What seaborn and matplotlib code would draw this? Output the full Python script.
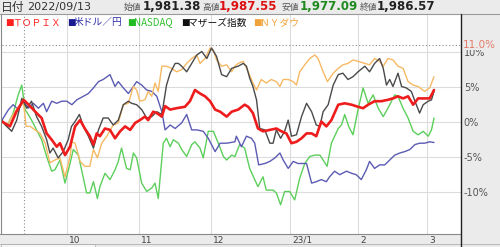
import matplotlib
matplotlib.use("Agg")
import matplotlib.pyplot as plt
from matplotlib.patches import Rectangle
from matplotlib.lines import Line2D
import matplotlib.transforms as mtrans
import seaborn as sns
import pandas as pd

# ---- data: (trading-day index from 2022/09/05, % change) ----
topix = [(0,0),(2.2,-0.7),(4,1.4),(6,3.1),(7.4,2.4),(8.7,1.7),(10,1.0),(11,0.5),(12.4,-1.7),(13.8,-2.6),
         (15.2,-3.6),(16.1,-3.1),(17.5,-4.8),(18.9,-3.6),(20.3,-0.7),(21.7,0.2),(23,-1.0),(24.4,-2.1),(25.4,-3.3),
         (26.3,-1.7),(27.2,-2.1),(28.6,-1.0),(30,-1.2),(31.4,-2.4),(32.8,-1.4),(34.2,-0.7),(35.6,-1.2),(37,-0.2),
         (38.3,0.2),(39.7,0.7),(40.6,0.2),(42,1.4),(43,1.2),(44.4,0.7),(45.3,2.2),(46.7,1.7),(48.5,1.9),(50.8,2.1),
         (52.2,2.9),(53.6,4.5),(55,4.0),(56.4,3.6),(57.8,2.9),(59.2,1.7),(60.6,1.4),(62.4,0.7),(63.8,1.4),(65.6,1.7),
         (67.4,2.4),(68.4,2.1),(69.7,1.2),(71.1,-1.0),(72.5,-1.4),(74.4,-1.2),(76.2,-1.0),(77.6,-1.4),(79,-1.7),
         (80.4,-3.1),(81.8,-2.9),(83.2,-2.4),(84.6,-1.7),(86,-1.7),(87.3,-2.1),(88.7,0.0),(90.1,-0.7),(91.5,0.2),
         (93.4,2.4),(95.2,2.6),(97.1,2.4),(98.9,2.1),(100.3,1.9),(101.7,2.4),(103.5,2.9),(105.4,2.9),(107.2,3.1),
         (108.6,3.3),(110,3.6),(111.4,3.3),(112.8,3.6),(114.2,2.4),(115.6,3.3),(117.4,3.3),(118.8,3.3),(119.5,4.0),(120,4.5)]

usdjpy = [(0,0.2),(1.8,1.7),(3.1,2.4),(4.5,1.7),(6,2.9),(7.3,1.9),(8.7,2.6),(10.1,1.9),(11.5,2.6),(12.4,1.4),
          (13.8,2.9),(15.2,2.6),(16.6,2.9),(18,2.9),(19.4,2.4),(20.8,3.1),(22.6,3.6),(24,4.0),(25.4,4.8),(26.8,5.7),
          (28.1,6.0),(30,6.7),(31.4,5.0),(32.3,5.7),(33.7,4.8),(35.1,4.0),(36.5,5.0),(37.4,5.7),(38.8,5.2),(40.2,4.5),
          (41.6,4.3),(43,3.6),(44.4,1.4),(45.3,-1.2),(46.7,-0.5),(48.1,-1.0),(49.9,-0.2),(51.3,1.0),(52.7,-1.2),
          (54.1,-1.2),(55.9,-1.4),(57.3,-2.4),(59.2,-4.3),(60.6,-3.1),(62.4,-3.1),(64.7,-2.9),(65.1,-2.1),(66.5,-3.6),
          (67.9,-2.1),(69.3,-2.4),(70.2,-3.1),(71.3,-6.2),(73,-6.0),(74.4,-5.7),(75.8,-5.2),(77.2,-4.5),(78.1,-5.5),
          (79.5,-6.7),(80.9,-5.7),(82.2,-6.0),(84.6,-6.0),(86,-8.8),(87.3,-8.6),(88.7,-8.3),(90.1,-8.6),(91,-7.9),
          (92.4,-7.1),(93.8,-7.6),(95.7,-7.1),(97.1,-7.4),(98.4,-7.6),(99.8,-8.3),(101.2,-6.9),(102.1,-5.7),
          (103.5,-6.7),(104.9,-6.2),(106.3,-6.2),(107.7,-5.5),(109.1,-4.8),(110.5,-4.5),(111.9,-4.3),(113.3,-4.0),
          (114.7,-3.3),(116,-3.1),(117.4,-3.1),(118.8,-2.9),(120,-3.0)]

nasdaq = [(0,0),(1.4,-0.7),(3.1,1.2),(4.5,3.8),(5.5,5.2),(6.4,1.7),(7.3,1.0),(8.2,0.2),(9.6,-1.2),(11,-2.6),
          (12.4,-5.0),(13.8,-7.1),(14.7,-6.9),(16.1,-5.5),(17.5,-8.8),(18.9,-6.0),(19.8,-4.0),(21.2,-4.8),(22.1,-6.9),
          (23.5,-10.2),(24.4,-10.2),(25.4,-8.6),(26.5,-11.0),(27.2,-9.3),(28.6,-7.4),(30,-8.3),(31.4,-6.9),
          (32.3,-5.7),(33.2,-3.8),(34.6,-6.7),(35.6,-6.9),(36.5,-4.5),(37.4,-5.2),(38.8,-8.8),(40.2,-10.0),
          (41.6,-9.5),(42.5,-8.8),(43.4,-11.0),(44.8,-3.1),(45.7,-2.4),(46.7,-3.6),(47.6,-2.6),(49,-3.1),(49.9,-4.0),
          (51.3,-5.0),(52.7,-3.3),(53.6,-2.9),(55,-3.8),(55.9,-5.2),(57.3,-1.4),(58.7,-1.4),(60.1,-3.1),(61.5,-5.0),
          (62.4,-5.5),(63.8,-4.8),(64.7,-5.0),(66,-3.3),(67.4,-3.8),(68.8,-6.7),(70.2,-8.3),(71.1,-9.3),(72.5,-7.9),
          (73.4,-9.8),(75.3,-9.8),(76.2,-10.2),(77.4,-11.9),(78.5,-10.0),(79.9,-10.0),(81.3,-11.2),(82.7,-8.1),
          (84.1,-6.0),(85.5,-5.0),(86.9,-4.8),(88.3,-4.8),(89.2,-5.5),(90.3,-6.4),(91.5,-3.1),(92.4,-2.1),
          (93.4,-1.0),(94.3,-0.5),(95.2,1.0),(96.3,-0.7),(97.5,-1.9),(98.9,1.7),(100.3,4.8),(101.7,2.6),(103.1,3.8),
          (104.5,1.9),(105.9,0.7),(107.2,1.9),(108.2,2.9),(109.1,3.8),(110,3.6),(111.4,1.9),(112.8,0.5),
          (114.2,-1.4),(115.6,-1.9),(117,-1.4),(118.4,-2.1),(119.3,-1.2),(120,0.5)]

mothers = [(0,0.2),(0.9,-0.5),(2.7,-1.4),(4.1,0.2),(5.5,3.3),(6.9,1.9),(8.2,2.9),(9.6,0.7),(11,-0.7),(12.4,-2.6),
           (13.3,-4.5),(14.2,-3.8),(15.6,-5.2),(17,-4.3),(18.4,-2.6),(19.3,-0.7),(20.3,0),(21.5,1.0),(22.6,-0.7),
           (24,-2.1),(25.4,-3.8),(26.8,-1.2),(28.1,0.5),(29.5,0.5),(30.9,-0.5),(32.3,0.2),(33.7,2.4),(35.1,2.9),
           (36,2.6),(37.4,2.4),(38.8,1.7),(40.2,0.5),(41.6,0.7),(43,1.4),(44.4,1.0),(45.7,5.2),(46.7,6.9),(48.1,8.3),
           (49,8.3),(49.9,7.9),(51.3,7.1),(52.7,8.3),(54.1,9.5),(55.5,10.0),(56.9,9.0),(58.2,10.5),(59.6,9.3),
           (61,6.7),(62.4,6.4),(63.8,7.6),(65.6,7.9),(67,8.3),(67.9,7.9),(68.8,6.2),(69.7,5.0),(70.7,3.1),(71.6,-1.0),
           (73,-1.2),(74.4,-3.1),(75.3,-3.1),(76.2,-1.2),(77.4,-2.4),(78.5,-1.4),(79.5,0.2),(80.4,-2.1),(81.8,-1.9),
           (83.2,0.7),(84.6,2.6),(86,1.4),(87.3,-0.5),(88.3,-0.7),(89.2,1.4),(90.6,2.4),(92,5.2),(93.4,6.7),
           (94.7,6.9),(96.1,6.0),(97.5,6.4),(98.9,7.1),(100.8,7.9),(102.1,7.1),(103.5,8.3),(104.9,9.0),(105.9,7.6),
           (106.8,5.2),(107.7,6.0),(108.6,5.0),(110,6.9),(111,5.0),(112.3,4.8),(113.7,4.3),(114.7,2.9),(116,1.2),
           (117,2.4),(118.4,2.9),(119.3,3.1),(120,4.3)]

nydow = [(0,0),(1.4,-0.5),(3.1,1.0),(4.5,2.1),(6,2.6),(6.7,-0.7),(7.8,-0.7),(9.2,-1.2),(10.6,-1.7),(12,-3.1),
         (13.3,-5.9),(14.7,-5.5),(16.1,-5.2),(17.5,-7.9),(18.9,-5.0),(19.4,-2.9),(20.3,-3.1),(21.7,-5.7),(23,-6.4),
         (24.4,-6.4),(25.4,-4.0),(26.5,-5.2),(27.7,-3.1),(29.1,-2.1),(30.9,-0.5),(32.3,-0.2),(33.7,2.4),(35.1,2.6),
         (36.5,5.0),(37.4,4.5),(38.3,2.9),(39.7,3.1),(40.6,4.3),(41.6,3.6),(42.5,5.5),(43.4,4.3),(44.4,7.9),
         (45.7,7.9),(47.1,7.6),(48.5,7.1),(49.9,7.4),(51.3,8.3),(52.7,9.0),(54.1,9.5),(55,8.3),(56.4,9.0),
         (57.8,10.5),(58.7,10.2),(59.6,8.8),(61,7.9),(62.4,8.1),(63.8,7.1),(64.7,7.9),(65.6,8.3),(67,8.6),
         (68.4,7.1),(69.7,5.5),(70.7,4.5),(72,6.0),(73.4,5.5),(74.8,6.0),(76.2,5.7),(77.2,5.0),(78.1,6.0),
         (79.5,6.0),(80.9,5.7),(81.8,5.2),(82.7,7.1),(84.1,8.1),(85.5,9.0),(86.9,9.5),(87.8,9.0),(89.2,7.1),
         (90.4,5.7),(92,6.9),(93.4,7.6),(94.7,8.1),(96.1,8.3),(97.5,8.8),(98.9,8.6),(100.8,8.3),(102.1,8.1),
         (103.5,9.0),(104.9,8.6),(105.9,7.9),(107.2,9.0),(108.6,8.8),(110,7.9),(111.4,7.6),(112.8,5.7),
         (114.2,5.2),(115.6,5.0),(117.4,4.3),(118.8,4.8),(120,6.4)]

series_names = ["ＴＯＰＩＸ", "米ドル／円", "NASDAQ", "マザーズ指数", "ＮＹダウ"]
month_ticks = [18, 38, 58, 80, 99, 118]
month_labels = ["10", "11", "12", "23/1", "2", "3"]
y_ticks = [-10, -5, 0, 5, 10]
y_labels = ["-10%", "-5%", "0%", "5%", "10%"]
cursor_idx = 6
cursor_date = "2022/09/13"
ref_level = 11.0
ohlc_labels = ["始値", "高値", "安値", "終値"]
ohlc_values = ["1,981.38", "1,987.55", "1,977.09", "1,986.57"]

# ---- styling ----
sns.set_style("white")
plt.rcParams['font.family'] = ['Noto Sans CJK JP', 'DejaVu Sans']

W, H = 500, 247
fig = plt.figure(figsize=(W / 100, H / 100), dpi=100, facecolor='white')

def fx(px):
    return px / W

def fy(py):
    return 1 - py / H

PANEL = '#ebebeb'
# background panels
for (x0, y0, x1, y1) in [(0, 0, 500, 14), (461, 14, 500, 247), (0, 234, 461, 247)]:
    fig.add_artist(Rectangle((fx(x0), fy(y1)), fx(x1) - fx(x0), fy(y0) - fy(y1),
                             transform=fig.transFigure, facecolor=PANEL, edgecolor='none', zorder=-5))
fig.add_artist(Rectangle((fx(1), fy(247)), fx(95) - fx(1), fy(244) - fy(247), transform=fig.transFigure,
                         facecolor='#f6f6f6', edgecolor='#bbbbbb', lw=0.6, zorder=-4))

def hline(py, x0, x1, color, lw=0.8):
    fig.add_artist(Line2D([fx(x0), fx(x1)], [fy(py), fy(py)], transform=fig.transFigure, color=color, lw=lw, zorder=6))

def vline(px, y0, y1, color, lw=0.8):
    fig.add_artist(Line2D([fx(px), fx(px)], [fy(y0), fy(y1)], transform=fig.transFigure, color=color, lw=lw, zorder=6))

# main axes
px_per_pct = 7.0
zero_py = 121.5
top_py, bot_py = 14.5, 234
left_px, right_px = 2, 461
px_per_day = 3.6
ax = fig.add_axes([fx(left_px), fy(bot_py), fx(right_px) - fx(left_px), fy(top_py) - fy(bot_py)])
ax.set_facecolor('white')
ax.set_ylim((zero_py - bot_py) / px_per_pct, (zero_py - top_py) / px_per_pct)
ax.set_xlim(0, (right_px - left_px) / px_per_day)

colors = {"ＴＯＰＩＸ": '#ee1c1c', "米ドル／円": '#5b5bb3', "NASDAQ": '#5ccf5c',
          "マザーズ指数": '#4a4a4a', "ＮＹダウ": '#f6b964'}
widths = {"ＴＯＰＩＸ": 1.9, "米ドル／円": 1.0, "NASDAQ": 1.0, "マザーズ指数": 1.0, "ＮＹダウ": 1.0}
data = {"ＴＯＰＩＸ": topix, "米ドル／円": usdjpy, "NASDAQ": nasdaq, "マザーズ指数": mothers, "ＮＹダウ": nydow}
draw_order = ["NASDAQ", "米ドル／円", "ＮＹダウ", "マザーズ指数", "ＴＯＰＩＸ"]
for name in draw_order:
    df = pd.DataFrame(data[name], columns=["idx", "pct"])
    sns.lineplot(data=df, x="idx", y="pct", ax=ax, color=colors[name], lw=widths[name],
                 estimator=None, sort=False, zorder=3 if name != "ＴＯＰＩＸ" else 4)

ax.set_xlabel("")
ax.set_ylabel("")
for s in ax.spines.values():
    s.set_visible(False)
ax.set_xticks(month_ticks)
ax.set_xticklabels(month_labels, family='DejaVu Sans')
ax.set_yticks(y_ticks)
ax.set_yticklabels(y_labels, family='DejaVu Sans')
ax.yaxis.tick_right()
ax.tick_params(axis='y', length=0, pad=2, labelsize=7, labelcolor='#555555')
ax.tick_params(axis='x', length=0, pad=1.2, labelsize=6.5, labelcolor='#444444')
off = mtrans.ScaledTranslation(2 / 100, 0, fig.dpi_scale_trans)
for lab in ax.get_xticklabels():
    lab.set_ha('left')
    lab.set_transform(lab.get_transform() + off)
ax.grid(True, color='#dcdcdc', lw=0.8)
ax.set_axisbelow(True)
ax.axhline(ref_level, color='#8a8a8a', ls=(0, (1, 2)), lw=0.8, zorder=2)
ax.axvline(cursor_idx, color='#8a8a8a', ls=(0, (1, 2)), lw=0.8, zorder=2)
ax.text(1.004, ref_level, f"{ref_level:.1f}%", transform=ax.get_yaxis_transform(), ha='left', va='center',
        fontsize=7.5, color='#e27b6b', family='DejaVu Sans', clip_on=False, zorder=10,
        bbox=dict(facecolor=PANEL, edgecolor='none', pad=0.3))

# borders
hline(14, 0, 500, '#9a9a9a')
hline(234, 0, 461, '#8a8a8a')
hline(243.5, 0, 500, '#b0b0b0', lw=0.6)
vline(461, 14, 247, '#222222', lw=1.0)
vline(1, 14, 234, '#888888', lw=0.8)

# header
cy = 7
fig.text(fx(1), fy(cy), "日付", fontsize=8.5, color='#333333', va='center', ha='left')
fig.text(fx(27), fy(cy), cursor_date, fontsize=8, color='#333333', va='center', ha='left', family='DejaVu Sans')
val_colors = ['#222222', '#dd1111', '#1e8a1e', '#222222']
lab_x = [124, 202, 282, 360]
val_x = [143, 219, 300, 377]
for lab, val, lx, vx, vc in zip(ohlc_labels, ohlc_values, lab_x, val_x, val_colors):
    fig.text(fx(lx), fy(cy + 0.5), lab, fontsize=6.3, color='#555555', va='center', ha='left')
    fig.text(fx(vx), fy(cy), val, fontsize=8.5, color=vc, va='center', ha='left',
             family='DejaVu Sans', fontweight='bold')

# legend row
ly = 22.5
leg_sq_x = [5, 67, 127, 181, 253]
leg_tx_x = [12, 74, 134, 188, 260]
leg_text_colors = {"ＴＯＰＩＸ": '#ff2a2a', "米ドル／円": '#2a2aa8', "NASDAQ": '#2fbf2f',
                   "マザーズ指数": '#111111', "ＮＹダウ": '#f2a23a'}
leg_sq_colors = {"ＴＯＰＩＸ": '#ff2020', "米ドル／円": '#1a1a90', "NASDAQ": '#22bb22',
                 "マザーズ指数": '#111111', "ＮＹダウ": '#f2a23a'}
for name, sx, tx in zip(series_names, leg_sq_x, leg_tx_x):
    fig.text(fx(sx), fy(ly), "■", fontsize=6.5, color=leg_sq_colors[name], va='center', ha='left',
             family='DejaVu Sans')
    fig.text(fx(tx), fy(ly), name, fontsize=7, color=leg_text_colors[name], va='center', ha='left')

fig.savefig("out.png", dpi=100, facecolor='white')
